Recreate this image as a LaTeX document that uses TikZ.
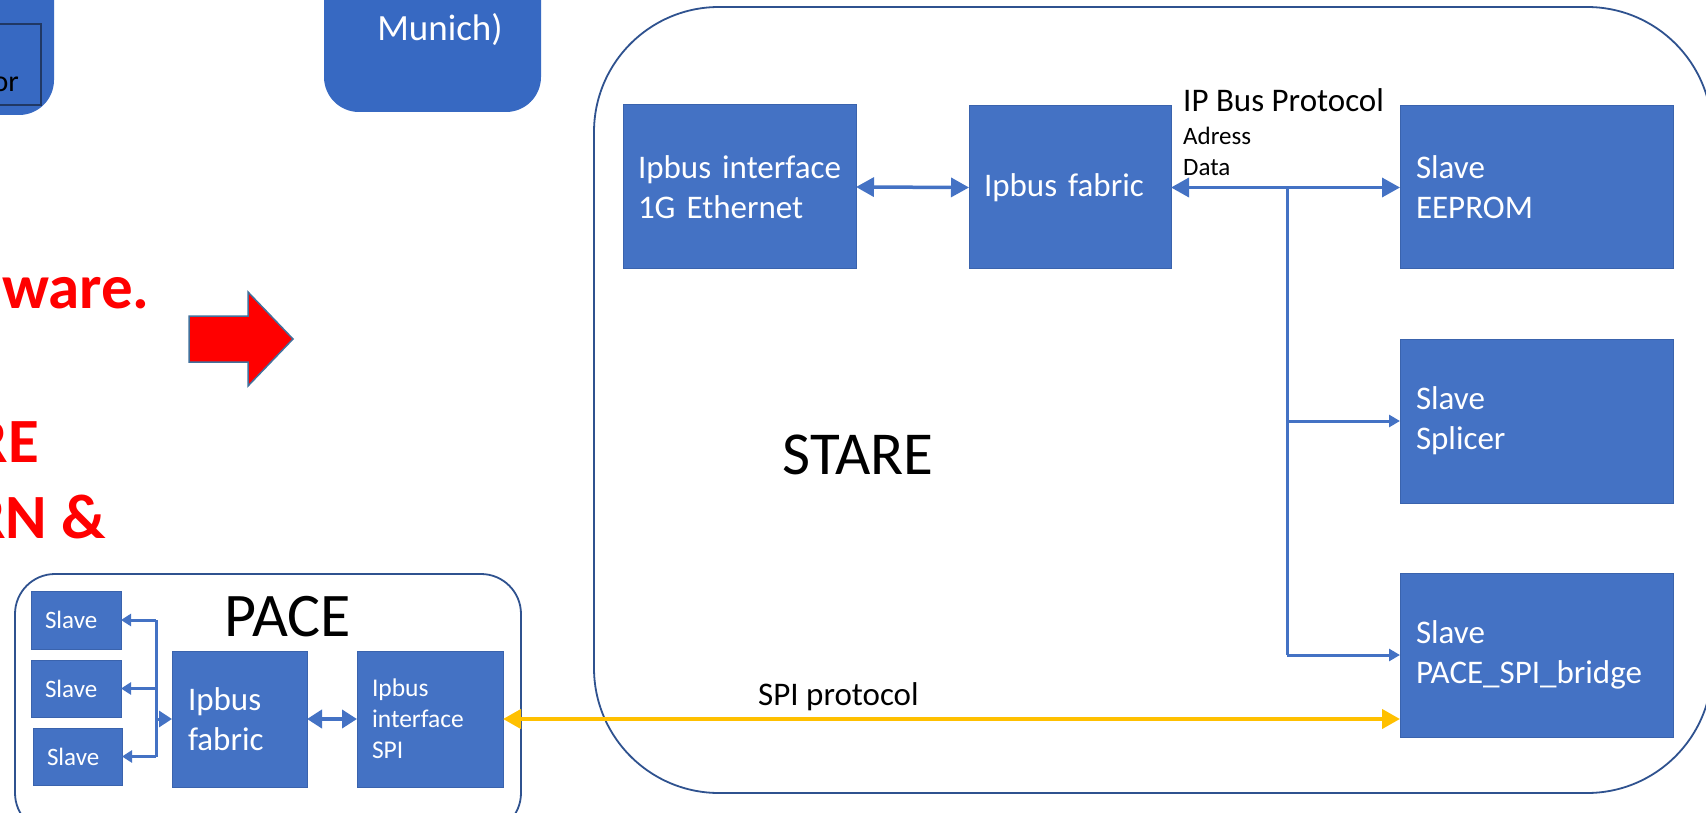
\documentclass[tikz,border=0pt]{standalone}
\usepackage{fontspec}
\setmainfont{Carlito}
\usetikzlibrary{arrows.meta}
\definecolor{boxblue}{HTML}{4472C4}
\definecolor{boxedge}{HTML}{3A63AD}
\definecolor{frameblue}{HTML}{2F528F}
\definecolor{darkfill}{HTML}{3769C2}
\definecolor{inneredge}{HTML}{203864}
\definecolor{spiyellow}{HTML}{FFC000}
\definecolor{arrowedge}{HTML}{41719C}
\definecolor{alertred}{HTML}{FF0000}
\tikzset{
  blockbox/.style={draw=boxedge, line width=1pt, fill=boxblue, text=white, align=left,
    inner xsep=0pt, inner ysep=0pt, outer sep=0pt},
  framebox/.style={draw=frameblue, line width=1.8pt, inner sep=0pt, outer sep=0pt},
  txtL/.style={font=\fontsize{33}{40}\selectfont},
  txtM/.style={font=\fontsize{25.5}{31}\selectfont},
  bigtitle/.style={font=\fontsize{61}{70}\selectfont, text=black, inner sep=0pt},
  redtxt/.style={font=\fontsize{63}{70}\selectfont\bfseries, text=alertred, inner sep=0pt, anchor=base east},
  conn/.style={draw=boxblue, line width=3.5pt},
  tipBB/.style={{Triangle[length=18pt,width=19pt]}-{Triangle[length=18pt,width=19pt]}},
  tipS/.style={-{Triangle[length=11pt,width=12pt]}},
}
\begin{document}
\begin{tikzpicture}[x=1pt,y=-1pt]
\clip (0,0) rectangle (1706,813);
\fill[white] (0,0) rectangle (1706,813);

% ---------- top partial shapes ----------
\node[fill=darkfill, rounded corners=35pt, minimum width=154pt, minimum height=175pt, inner sep=0pt] (topleft) at (-23,27.5) {};
\node[fill=darkfill, draw=inneredge, line width=2pt, minimum width=92pt, minimum height=81pt, inner sep=0pt] (topinner) at (-5,64.5) {};
\node[anchor=base east, inner sep=0pt, font=\fontsize{30}{36}\selectfont] (ortxt) at (19,92) {or};

\node[fill=darkfill, rounded corners=35pt, minimum width=217pt, minimum height=172pt, inner sep=0pt] (munich) at (432.5,26) {};
\node[anchor=base, inner sep=0pt, text=white, font=\fontsize{37}{44}\selectfont] (munichtxt) at (440,41) {Munich)};

% ---------- red text and arrow ----------
\node[redtxt] (red1) at (150,308) {ware.};
\node[redtxt] (red2) at (39,462) {RE};
\node[redtxt] (red3) at (106,538) {RN \&};
\draw[fill=alertred, draw=arrowedge, line width=1.5pt]
  (189,316) -- (248,316) -- (248,292) -- (293,339) -- (248,386) -- (248,362) -- (189,362) -- cycle;

% ---------- containers ----------
\node[framebox, rounded corners=125pt, minimum width=1118pt, minimum height=786pt] (stare) at (1153,400) {};
\node[framebox, rounded corners=40pt, minimum width=506pt, minimum height=259pt] (pace) at (268,703.5) {};

% ---------- STARE blocks ----------
\node[blockbox, txtL, minimum width=233pt, minimum height=164pt, text width=203pt] (eth) at (739.5,187) {\mbox{Ipbus interface}\\\mbox{1G Ethernet}};
\node[blockbox, txtL, minimum width=202pt, minimum height=163pt, text width=172pt] (sfab) at (1070,187.5) {\mbox{Ipbus fabric}};
\node[blockbox, txtL, minimum width=273pt, minimum height=163pt, text width=241pt] (eeprom) at (1536.5,187.5) {Slave\\EEPROM};
\node[blockbox, txtL, minimum width=273pt, minimum height=164pt, text width=241pt] (splicer) at (1536.5,421) {Slave\\Splicer};
\node[blockbox, txtL, minimum width=273pt, minimum height=164pt, text width=241pt] (bridge) at (1536.5,655) {Slave\\\mbox{PACE\_SPI\_bridge}};

\node[bigtitle, anchor=base] (staretitle) at (858,474) {STARE};
\node[txtL, anchor=base west, inner sep=0pt] (ipbusproto) at (1183,112) {IP Bus Protocol};
\node[font=\fontsize{25}{31}\selectfont, anchor=base west, inner sep=0pt] (adress) at (1183,145) {Adress};
\node[font=\fontsize{25}{31}\selectfont, anchor=base west, inner sep=0pt] (datatxt) at (1183,176) {Data};
\node[txtL, anchor=base west, inner sep=0pt] (spiproto) at (758,705) {SPI protocol};

% ---------- PACE blocks ----------
\node[blockbox, font=\fontsize{25}{30}\selectfont, minimum width=90pt, minimum height=58pt, text width=62pt] (s1) at (76,620) {Slave};
\node[blockbox, font=\fontsize{25}{30}\selectfont, minimum width=90pt, minimum height=57pt, text width=62pt] (s2) at (76,688.5) {Slave};
\node[blockbox, font=\fontsize{25}{30}\selectfont, minimum width=89pt, minimum height=57pt, text width=61pt] (s3) at (77.5,756.5) {Slave};
\node[blockbox, txtL, minimum width=135pt, minimum height=136pt, text width=103pt] (pfab) at (239.5,719) {Ipbus\\fabric};
\node[blockbox, txtM, minimum width=146pt, minimum height=136pt, text width=116pt] (pspi) at (430,719) {Ipbus\\interface\\SPI};
\node[bigtitle, anchor=base, font=\fontsize{62}{70}\selectfont] (pacetitle) at (288,636) {PACE};

% ---------- STARE connectors ----------
\draw[conn, tipBB] (eth.east) -- (sfab.west);
\draw[conn, tipBB] (sfab.east) -- (eeprom.west);
\coordinate (bus) at (1287,187.5);
\draw[conn, line width=3pt] (bus) -- (bus |- bridge.west);
\draw[conn, line width=3pt, tipS] (bus |- splicer.west) -- (splicer.west);
\draw[conn, line width=3pt, tipS] (bus |- bridge.west) -- (bridge.west);

% ---------- SPI link ----------
\draw[draw=spiyellow, line width=4pt, tipBB] (pspi.east) -- (pspi.east -| bridge.west);

% ---------- PACE connectors ----------
\coordinate (pbtop) at (156,620);
\coordinate (pbbot) at (156,756.5);
\draw[conn, line width=3pt] (pbtop) -- (pbbot);
\draw[conn, line width=3pt, -{Triangle[length=10pt,width=12pt]}] (pbtop) -- (s1.east);
\draw[conn, line width=3pt, -{Triangle[length=10pt,width=12pt]}] (pbtop |- s2.east) -- (s2.east);
\draw[conn, line width=3pt, -{Triangle[length=10pt,width=12pt]}] (pbbot) -- (pbbot -| s3.east);
\draw[conn, line width=3pt, -{Triangle[length=13pt,width=16pt]}] (pbtop |- pfab.west) -- (pfab.west);
\draw[conn, line width=4pt, {Triangle[length=15pt,width=18pt]}-{Triangle[length=15pt,width=18pt]}] (pfab.east) -- (pspi.west);
\end{tikzpicture}
\end{document}
